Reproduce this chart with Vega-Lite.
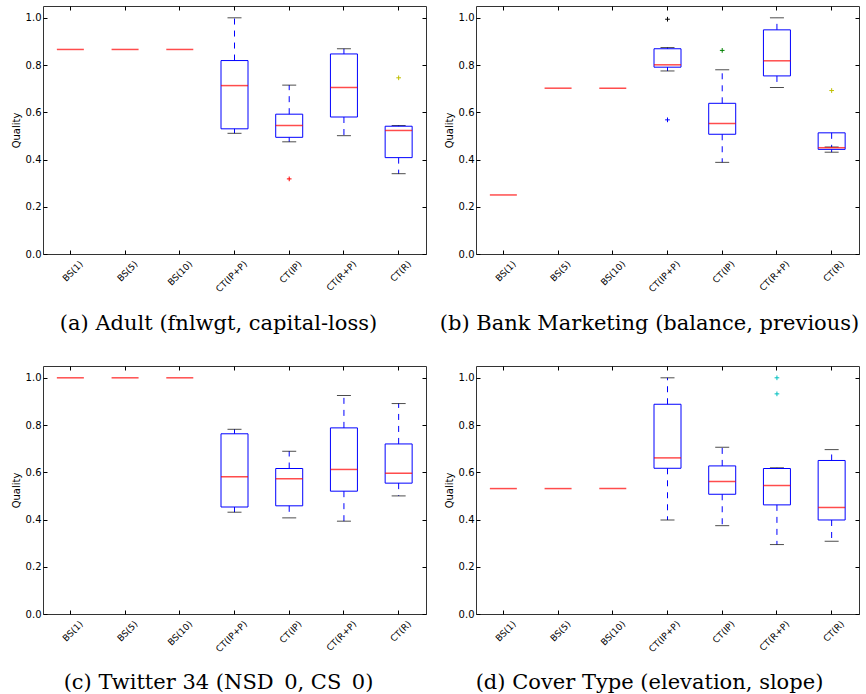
{
  "$schema": "https://vega.github.io/schema/vega-lite/v6.json",
  "padding": {"left": 10, "top": 5, "right": 0, "bottom": 0},
  "background": "white",
  "bounds": "flush",
  "spacing": {"row": 112, "column": 50},
  "columns": 2,
  "datasets": {
    "boxes": [
      {"panel": "a", "cat": "BS(1)", "lower": null, "q1": null, "median": 0.866, "q3": null, "upper": null},
      {"panel": "a", "cat": "BS(5)", "lower": null, "q1": null, "median": 0.866, "q3": null, "upper": null},
      {"panel": "a", "cat": "BS(10)", "lower": null, "q1": null, "median": 0.866, "q3": null, "upper": null},
      {"panel": "a", "cat": "CT(IP+P)", "lower": 0.511, "q1": 0.530, "median": 0.713, "q3": 0.819, "upper": 1.0},
      {"panel": "a", "cat": "CT(IP)", "lower": 0.475, "q1": 0.494, "median": 0.544, "q3": 0.592, "upper": 0.715},
      {"panel": "a", "cat": "CT(R+P)", "lower": 0.501, "q1": 0.580, "median": 0.705, "q3": 0.847, "upper": 0.869},
      {"panel": "a", "cat": "CT(R)", "lower": 0.340, "q1": 0.408, "median": 0.523, "q3": 0.541, "upper": 0.544},
      {"panel": "b", "cat": "BS(1)", "lower": null, "q1": null, "median": 0.250, "q3": null, "upper": null},
      {"panel": "b", "cat": "BS(5)", "lower": null, "q1": null, "median": 0.702, "q3": null, "upper": null},
      {"panel": "b", "cat": "BS(10)", "lower": null, "q1": null, "median": 0.702, "q3": null, "upper": null},
      {"panel": "b", "cat": "CT(IP+P)", "lower": 0.775, "q1": 0.791, "median": 0.801, "q3": 0.869, "upper": 0.874},
      {"panel": "b", "cat": "CT(IP)", "lower": 0.388, "q1": 0.507, "median": 0.552, "q3": 0.638, "upper": 0.780},
      {"panel": "b", "cat": "CT(R+P)", "lower": 0.705, "q1": 0.754, "median": 0.818, "q3": 0.949, "upper": 1.0},
      {"panel": "b", "cat": "CT(R)", "lower": 0.431, "q1": 0.443, "median": 0.450, "q3": 0.513, "upper": 0.453},
      {"panel": "c", "cat": "BS(1)", "lower": null, "q1": null, "median": 1.0, "q3": null, "upper": null},
      {"panel": "c", "cat": "BS(5)", "lower": null, "q1": null, "median": 1.0, "q3": null, "upper": null},
      {"panel": "c", "cat": "BS(10)", "lower": null, "q1": null, "median": 1.0, "q3": null, "upper": null},
      {"panel": "c", "cat": "CT(IP+P)", "lower": 0.431, "q1": 0.453, "median": 0.581, "q3": 0.763, "upper": 0.782},
      {"panel": "c", "cat": "CT(IP)", "lower": 0.407, "q1": 0.458, "median": 0.573, "q3": 0.616, "upper": 0.689},
      {"panel": "c", "cat": "CT(R+P)", "lower": 0.393, "q1": 0.520, "median": 0.612, "q3": 0.788, "upper": 0.925},
      {"panel": "c", "cat": "CT(R)", "lower": 0.500, "q1": 0.554, "median": 0.596, "q3": 0.720, "upper": 0.891},
      {"panel": "d", "cat": "BS(1)", "lower": null, "q1": null, "median": 0.531, "q3": null, "upper": null},
      {"panel": "d", "cat": "BS(5)", "lower": null, "q1": null, "median": 0.531, "q3": null, "upper": null},
      {"panel": "d", "cat": "BS(10)", "lower": null, "q1": null, "median": 0.531, "q3": null, "upper": null},
      {"panel": "d", "cat": "CT(IP+P)", "lower": 0.398, "q1": 0.617, "median": 0.661, "q3": 0.888, "upper": 1.0},
      {"panel": "d", "cat": "CT(IP)", "lower": 0.374, "q1": 0.507, "median": 0.561, "q3": 0.627, "upper": 0.706},
      {"panel": "d", "cat": "CT(R+P)", "lower": 0.294, "q1": 0.462, "median": 0.544, "q3": 0.616, "upper": 0.619},
      {"panel": "d", "cat": "CT(R)", "lower": 0.308, "q1": 0.398, "median": 0.451, "q3": 0.650, "upper": 0.696}
    ],
    "fliers": [
      {"panel": "a", "cat": "CT(IP)", "value": 0.318, "fc": "r"},
      {"panel": "a", "cat": "CT(R)", "value": 0.746, "fc": "y"},
      {"panel": "b", "cat": "CT(IP+P)", "value": 0.994, "fc": "k"},
      {"panel": "b", "cat": "CT(IP+P)", "value": 0.568, "fc": "b"},
      {"panel": "b", "cat": "CT(IP)", "value": 0.862, "fc": "g"},
      {"panel": "b", "cat": "CT(R)", "value": 0.692, "fc": "y"},
      {"panel": "d", "cat": "CT(R+P)", "value": 1.0, "fc": "c"},
      {"panel": "d", "cat": "CT(R+P)", "value": 0.932, "fc": "c"}
    ]
  },
  "config": {
    "view": {"stroke": "#333333", "strokeWidth": 1},
    "axis": {"grid": false, "domain": false, "labelColor": "#000", "tickColor": "#000", "titleColor": "#000", "labelFont": "DejaVu Sans", "titleFont": "DejaVu Sans", "tickSize": -4},
    "axisBottom": {"labelAngle": 315, "labelAlign": "right", "labelBaseline": "middle", "labelOffset": 11, "labelPadding": 12, "labelFontSize": 9, "titleFont": "DejaVu Serif", "titleFontSize": 21, "titleFontWeight": "normal", "titleAlign": "center", "titleBaseline": "alphabetic"},
    "axisLeft": {"labelPadding": 6, "labelFontSize": 10, "titleFontSize": 10, "titleFontWeight": "normal", "titlePadding": 4}
  },
  "concat": [
    {
      "width": 383, "height": 248,
      "resolve": {"axis": {"x": "independent", "y": "independent"}},
      "layer": [
        {"data": {"name": "boxes"}, "transform": [{"filter": "datum.panel === 'a'"}],
         "mark": {"type": "rule", "color": "#0000ff", "strokeWidth": 1, "strokeDash": [6, 6]},
         "encoding": {
           "x": {"field": "cat", "type": "nominal", "scale": {"type": "band", "paddingInner": 0, "paddingOuter": 0, "domain": ["BS(1)", "BS(5)", "BS(10)", "CT(IP+P)", "CT(IP)", "CT(R+P)", "CT(R)"]},
                 "axis": {"orient": "bottom", "title": "(a) Adult (fnlwgt, capital-loss)", "labelAngle": 315, "titleX": 175, "titleY": 75}},
           "y": {"field": "q3", "type": "quantitative", "scale": {"domain": [0, 1.05], "nice": false, "zero": false},
                 "axis": {"orient": "left", "title": "Quality", "values": [0, 0.2, 0.4, 0.6, 0.8, 1.0], "format": ".1f"}},
           "y2": {"field": "upper"}}},
        {"data": {"name": "boxes"}, "transform": [{"filter": "datum.panel === 'a'"}],
         "mark": {"type": "rule", "color": "#0000ff", "strokeWidth": 1, "strokeDash": [6, 6]},
         "encoding": {
           "x": {"field": "cat", "type": "nominal", "axis": null},
           "y": {"field": "q1", "type": "quantitative", "axis": null},
           "y2": {"field": "lower"}}},
        {"data": {"name": "boxes"}, "transform": [{"filter": "datum.panel === 'a'"}],
         "mark": {"type": "tick", "color": "#000000", "size": 14, "thickness": 1},
         "encoding": {
           "x": {"field": "cat", "type": "nominal", "axis": {"orient": "top", "labels": false, "title": null}},
           "y": {"field": "upper", "type": "quantitative", "axis": {"orient": "right", "labels": false, "title": null, "values": [0, 0.2, 0.4, 0.6, 0.8, 1.0]}}}},
        {"data": {"name": "boxes"}, "transform": [{"filter": "datum.panel === 'a'"}],
         "mark": {"type": "tick", "color": "#000000", "size": 14, "thickness": 1},
         "encoding": {
           "x": {"field": "cat", "type": "nominal", "axis": null},
           "y": {"field": "lower", "type": "quantitative", "axis": null}}},
        {"data": {"name": "boxes"}, "transform": [{"filter": "datum.panel === 'a'"}],
         "mark": {"type": "bar", "size": 27, "fillOpacity": 0, "stroke": "#0000ff", "strokeWidth": 1},
         "encoding": {
           "x": {"field": "cat", "type": "nominal", "axis": null},
           "y": {"field": "q1", "type": "quantitative", "axis": null},
           "y2": {"field": "q3"}}},
        {"data": {"name": "boxes"}, "transform": [{"filter": "datum.panel === 'a'"}],
         "mark": {"type": "tick", "color": "#ff0000", "size": 27, "thickness": 1.5},
         "encoding": {
           "x": {"field": "cat", "type": "nominal", "axis": null},
           "y": {"field": "median", "type": "quantitative", "axis": null}}},
        {"data": {"name": "fliers"}, "transform": [{"filter": "datum.panel === 'a'"}],
         "mark": {"type": "point", "shape": "M-1,0H1M0,-1V1", "filled": false, "size": 22, "strokeWidth": 1, "opacity": 1},
         "encoding": {
           "x": {"field": "cat", "type": "nominal", "axis": null},
           "y": {"field": "value", "type": "quantitative", "axis": null},
           "color": {"field": "fc", "type": "nominal", "legend": null, "scale": {"domain": ["k", "b", "g", "r", "c", "y"], "range": ["#000000", "#0000ff", "#008000", "#ff0000", "#00bfbf", "#bfbf00"]}}}}
      ]
    },
    {
      "width": 383, "height": 248,
      "resolve": {"axis": {"x": "independent", "y": "independent"}},
      "layer": [
        {"data": {"name": "boxes"}, "transform": [{"filter": "datum.panel === 'b'"}],
         "mark": {"type": "rule", "color": "#0000ff", "strokeWidth": 1, "strokeDash": [6, 6]},
         "encoding": {
           "x": {"field": "cat", "type": "nominal", "scale": {"type": "band", "paddingInner": 0, "paddingOuter": 0, "domain": ["BS(1)", "BS(5)", "BS(10)", "CT(IP+P)", "CT(IP)", "CT(R+P)", "CT(R)"]},
                 "axis": {"orient": "bottom", "title": "(b) Bank Marketing (balance, previous)", "labelAngle": 315, "titleX": 173, "titleY": 75}},
           "y": {"field": "q3", "type": "quantitative", "scale": {"domain": [0, 1.05], "nice": false, "zero": false},
                 "axis": {"orient": "left", "title": "Quality", "values": [0, 0.2, 0.4, 0.6, 0.8, 1.0], "format": ".1f"}},
           "y2": {"field": "upper"}}},
        {"data": {"name": "boxes"}, "transform": [{"filter": "datum.panel === 'b'"}],
         "mark": {"type": "rule", "color": "#0000ff", "strokeWidth": 1, "strokeDash": [6, 6]},
         "encoding": {
           "x": {"field": "cat", "type": "nominal", "axis": null},
           "y": {"field": "q1", "type": "quantitative", "axis": null},
           "y2": {"field": "lower"}}},
        {"data": {"name": "boxes"}, "transform": [{"filter": "datum.panel === 'b'"}],
         "mark": {"type": "tick", "color": "#000000", "size": 14, "thickness": 1},
         "encoding": {
           "x": {"field": "cat", "type": "nominal", "axis": {"orient": "top", "labels": false, "title": null}},
           "y": {"field": "upper", "type": "quantitative", "axis": {"orient": "right", "labels": false, "title": null, "values": [0, 0.2, 0.4, 0.6, 0.8, 1.0]}}}},
        {"data": {"name": "boxes"}, "transform": [{"filter": "datum.panel === 'b'"}],
         "mark": {"type": "tick", "color": "#000000", "size": 14, "thickness": 1},
         "encoding": {
           "x": {"field": "cat", "type": "nominal", "axis": null},
           "y": {"field": "lower", "type": "quantitative", "axis": null}}},
        {"data": {"name": "boxes"}, "transform": [{"filter": "datum.panel === 'b'"}],
         "mark": {"type": "bar", "size": 27, "fillOpacity": 0, "stroke": "#0000ff", "strokeWidth": 1},
         "encoding": {
           "x": {"field": "cat", "type": "nominal", "axis": null},
           "y": {"field": "q1", "type": "quantitative", "axis": null},
           "y2": {"field": "q3"}}},
        {"data": {"name": "boxes"}, "transform": [{"filter": "datum.panel === 'b'"}],
         "mark": {"type": "tick", "color": "#ff0000", "size": 27, "thickness": 1.5},
         "encoding": {
           "x": {"field": "cat", "type": "nominal", "axis": null},
           "y": {"field": "median", "type": "quantitative", "axis": null}}},
        {"data": {"name": "fliers"}, "transform": [{"filter": "datum.panel === 'b'"}],
         "mark": {"type": "point", "shape": "M-1,0H1M0,-1V1", "filled": false, "size": 22, "strokeWidth": 1, "opacity": 1},
         "encoding": {
           "x": {"field": "cat", "type": "nominal", "axis": null},
           "y": {"field": "value", "type": "quantitative", "axis": null},
           "color": {"field": "fc", "type": "nominal", "legend": null, "scale": {"domain": ["k", "b", "g", "r", "c", "y"], "range": ["#000000", "#0000ff", "#008000", "#ff0000", "#00bfbf", "#bfbf00"]}}}}
      ]
    },
    {
      "width": 383, "height": 248,
      "resolve": {"axis": {"x": "independent", "y": "independent"}},
      "layer": [
        {"data": {"name": "boxes"}, "transform": [{"filter": "datum.panel === 'c'"}],
         "mark": {"type": "rule", "color": "#0000ff", "strokeWidth": 1, "strokeDash": [6, 6]},
         "encoding": {
           "x": {"field": "cat", "type": "nominal", "scale": {"type": "band", "paddingInner": 0, "paddingOuter": 0, "domain": ["BS(1)", "BS(5)", "BS(10)", "CT(IP+P)", "CT(IP)", "CT(R+P)", "CT(R)"]},
                 "axis": {"orient": "bottom", "title": "(c) Twitter 34 (NSD_0, CS_0)", "labelAngle": 315, "titleX": 175, "titleY": 74}},
           "y": {"field": "q3", "type": "quantitative", "scale": {"domain": [0, 1.05], "nice": false, "zero": false},
                 "axis": {"orient": "left", "title": "Quality", "values": [0, 0.2, 0.4, 0.6, 0.8, 1.0], "format": ".1f"}},
           "y2": {"field": "upper"}}},
        {"data": {"name": "boxes"}, "transform": [{"filter": "datum.panel === 'c'"}],
         "mark": {"type": "rule", "color": "#0000ff", "strokeWidth": 1, "strokeDash": [6, 6]},
         "encoding": {
           "x": {"field": "cat", "type": "nominal", "axis": null},
           "y": {"field": "q1", "type": "quantitative", "axis": null},
           "y2": {"field": "lower"}}},
        {"data": {"name": "boxes"}, "transform": [{"filter": "datum.panel === 'c'"}],
         "mark": {"type": "tick", "color": "#000000", "size": 14, "thickness": 1},
         "encoding": {
           "x": {"field": "cat", "type": "nominal", "axis": {"orient": "top", "labels": false, "title": null}},
           "y": {"field": "upper", "type": "quantitative", "axis": {"orient": "right", "labels": false, "title": null, "values": [0, 0.2, 0.4, 0.6, 0.8, 1.0]}}}},
        {"data": {"name": "boxes"}, "transform": [{"filter": "datum.panel === 'c'"}],
         "mark": {"type": "tick", "color": "#000000", "size": 14, "thickness": 1},
         "encoding": {
           "x": {"field": "cat", "type": "nominal", "axis": null},
           "y": {"field": "lower", "type": "quantitative", "axis": null}}},
        {"data": {"name": "boxes"}, "transform": [{"filter": "datum.panel === 'c'"}],
         "mark": {"type": "bar", "size": 27, "fillOpacity": 0, "stroke": "#0000ff", "strokeWidth": 1},
         "encoding": {
           "x": {"field": "cat", "type": "nominal", "axis": null},
           "y": {"field": "q1", "type": "quantitative", "axis": null},
           "y2": {"field": "q3"}}},
        {"data": {"name": "boxes"}, "transform": [{"filter": "datum.panel === 'c'"}],
         "mark": {"type": "tick", "color": "#ff0000", "size": 27, "thickness": 1.5},
         "encoding": {
           "x": {"field": "cat", "type": "nominal", "axis": null},
           "y": {"field": "median", "type": "quantitative", "axis": null}}}
      ]
    },
    {
      "width": 383, "height": 248,
      "resolve": {"axis": {"x": "independent", "y": "independent"}},
      "layer": [
        {"data": {"name": "boxes"}, "transform": [{"filter": "datum.panel === 'd'"}],
         "mark": {"type": "rule", "color": "#0000ff", "strokeWidth": 1, "strokeDash": [6, 6]},
         "encoding": {
           "x": {"field": "cat", "type": "nominal", "scale": {"type": "band", "paddingInner": 0, "paddingOuter": 0, "domain": ["BS(1)", "BS(5)", "BS(10)", "CT(IP+P)", "CT(IP)", "CT(R+P)", "CT(R)"]},
                 "axis": {"orient": "bottom", "title": "(d) Cover Type (elevation, slope)", "labelAngle": 315, "titleX": 173, "titleY": 74}},
           "y": {"field": "q3", "type": "quantitative", "scale": {"domain": [0, 1.05], "nice": false, "zero": false},
                 "axis": {"orient": "left", "title": "Quality", "values": [0, 0.2, 0.4, 0.6, 0.8, 1.0], "format": ".1f"}},
           "y2": {"field": "upper"}}},
        {"data": {"name": "boxes"}, "transform": [{"filter": "datum.panel === 'd'"}],
         "mark": {"type": "rule", "color": "#0000ff", "strokeWidth": 1, "strokeDash": [6, 6]},
         "encoding": {
           "x": {"field": "cat", "type": "nominal", "axis": null},
           "y": {"field": "q1", "type": "quantitative", "axis": null},
           "y2": {"field": "lower"}}},
        {"data": {"name": "boxes"}, "transform": [{"filter": "datum.panel === 'd'"}],
         "mark": {"type": "tick", "color": "#000000", "size": 14, "thickness": 1},
         "encoding": {
           "x": {"field": "cat", "type": "nominal", "axis": {"orient": "top", "labels": false, "title": null}},
           "y": {"field": "upper", "type": "quantitative", "axis": {"orient": "right", "labels": false, "title": null, "values": [0, 0.2, 0.4, 0.6, 0.8, 1.0]}}}},
        {"data": {"name": "boxes"}, "transform": [{"filter": "datum.panel === 'd'"}],
         "mark": {"type": "tick", "color": "#000000", "size": 14, "thickness": 1},
         "encoding": {
           "x": {"field": "cat", "type": "nominal", "axis": null},
           "y": {"field": "lower", "type": "quantitative", "axis": null}}},
        {"data": {"name": "boxes"}, "transform": [{"filter": "datum.panel === 'd'"}],
         "mark": {"type": "bar", "size": 27, "fillOpacity": 0, "stroke": "#0000ff", "strokeWidth": 1},
         "encoding": {
           "x": {"field": "cat", "type": "nominal", "axis": null},
           "y": {"field": "q1", "type": "quantitative", "axis": null},
           "y2": {"field": "q3"}}},
        {"data": {"name": "boxes"}, "transform": [{"filter": "datum.panel === 'd'"}],
         "mark": {"type": "tick", "color": "#ff0000", "size": 27, "thickness": 1.5},
         "encoding": {
           "x": {"field": "cat", "type": "nominal", "axis": null},
           "y": {"field": "median", "type": "quantitative", "axis": null}}},
        {"data": {"name": "fliers"}, "transform": [{"filter": "datum.panel === 'd'"}],
         "mark": {"type": "point", "shape": "M-1,0H1M0,-1V1", "filled": false, "size": 22, "strokeWidth": 1, "opacity": 1},
         "encoding": {
           "x": {"field": "cat", "type": "nominal", "axis": null},
           "y": {"field": "value", "type": "quantitative", "axis": null},
           "color": {"field": "fc", "type": "nominal", "legend": null, "scale": {"domain": ["k", "b", "g", "r", "c", "y"], "range": ["#000000", "#0000ff", "#008000", "#ff0000", "#00bfbf", "#bfbf00"]}}}}
      ]
    }
  ]
}
